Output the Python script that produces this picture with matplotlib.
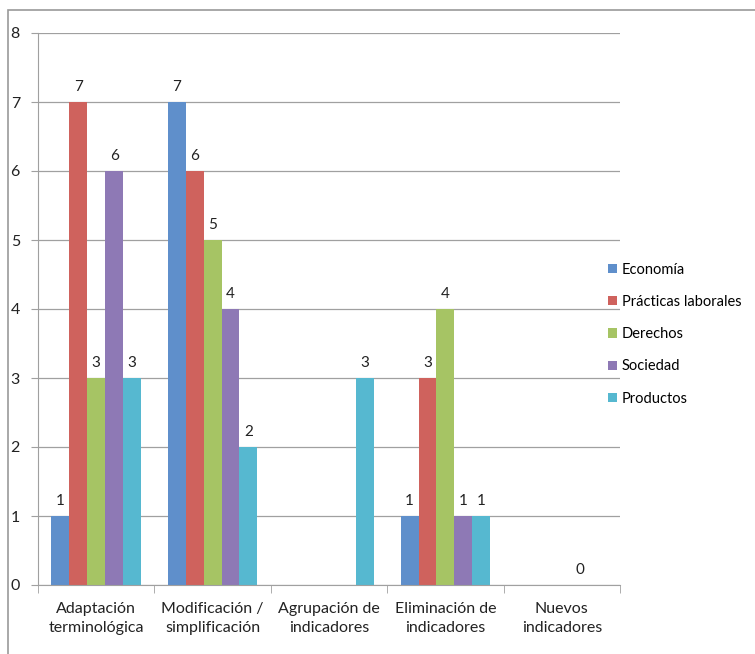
import numpy as np
import matplotlib.pyplot as plt
from matplotlib.patches import Rectangle

plt.rcParams['font.family'] = ['Lato', 'DejaVu Sans']

categorias = ['Adaptación\nterminológica', 'Modificación /\nsimplificación',
              'Agrupación de\nindicadores', 'Eliminación de\nindicadores',
              'Nuevos\nindicadores']
series = ['Economía', 'Prácticas laborales', 'Derechos', 'Sociedad', 'Productos']
nan = np.nan
economia = [1, 7, nan, 1, nan]
practicas = [7, 6, nan, 3, nan]
derechos = [3, 5, nan, 4, nan]
sociedad = [6, 4, nan, 1, 0]
productos = [3, 2, 3, 1, nan]
colores = ['#5F8FCB', '#CF625D', '#A6C464', '#8E79B5', '#56B8D0']

valores = [economia, practicas, derechos, sociedad, productos]

fig = plt.figure(figsize=(7.55, 6.54), dpi=100)
ax = fig.add_axes([38 / 755, 1 - 585 / 654, 582 / 755, 552 / 654])

n = len(series)
ancho = 1 / (n + 1.5)
x = np.arange(len(categorias))
for i, (nombre, vals, col) in enumerate(zip(series, valores, colores)):
    pos = x + (i - (n - 1) / 2) * ancho
    v = np.array(vals, dtype=float)
    ax.bar(pos, np.nan_to_num(v), width=ancho, color=col, label=nombre, zorder=2)
    for p, val in zip(pos, v):
        if not np.isnan(val):
            ax.text(p, val + 0.12, f'{int(val)}', ha='center', va='bottom',
                    fontsize=11, color='#222222')

ax.set_xlim(-0.5, len(categorias) - 0.5)
ax.set_ylim(0, 8)
ax.set_yticks(range(9))
ax.yaxis.grid(True, color='#A0A0A0', linewidth=0.9, zorder=0)
ax.set_axisbelow(True)

ax.set_xticks(x)
ax.set_xticklabels(categorias, fontsize=11.5, color='#222222', linespacing=1.5)
ax.tick_params(axis='x', length=0, pad=12)
ax.set_xticks(np.arange(-0.5, len(categorias)), minor=True)
ax.tick_params(axis='x', which='minor', length=6, color='#A0A0A0')
ax.tick_params(axis='y', length=5, color='#A0A0A0', labelsize=11.5,
               labelcolor='#222222', pad=8)

for lado in ['top', 'right']:
    ax.spines[lado].set_visible(False)
for lado in ['left', 'bottom']:
    ax.spines[lado].set_color('#A0A0A0')

ax.legend(loc='center left', bbox_to_anchor=(598 / 755, 0.489),
          bbox_transform=fig.transFigure, frameon=False, borderpad=0.2,
          fontsize=10.5, handlelength=0.6, handleheight=0.6, handletextpad=0.35,
          labelspacing=1.25)

# marco exterior del gráfico
fig.patches.append(Rectangle((8 / 755, -0.1), 1.2, 1 - 10 / 654 + 0.1,
                             transform=fig.transFigure, fill=False,
                             edgecolor='#9A9A9A', linewidth=1.2))

fig.savefig('out.png', dpi=100)
